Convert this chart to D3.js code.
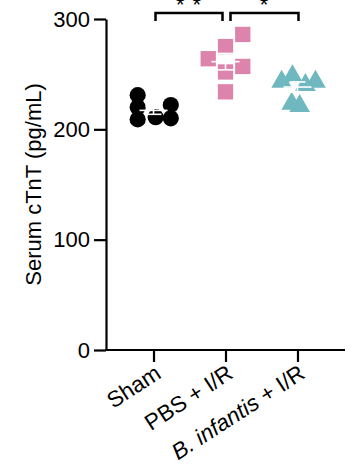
<!DOCTYPE html>
<html lang="en">
<head>
    <meta charset="UTF-8">
    <title>Serum cTnT</title>
    <script src="https://d3js.org/d3.v7.min.js"></script>
    <style>
        body { margin: 0; background: #fff; }
        text { font-family: "Liberation Sans", Arial, sans-serif; fill: #000; }
        .axis path, .axis line { stroke: #000; stroke-width: 2.2; }
        .bracket { fill: none; stroke: #000; stroke-width: 2.5; }
    </style>
</head>
<body>
    <svg width="357" height="466"></svg>
    <script>
        // groups and read-off values
        const groups = ["Sham", "PBS + I/R", "B. infantis + I/R"];
        const sham = [231, 220, 209, 222, 210, 211];
        const pbs = [286, 275, 264, 257, 252, 234];
        const binf = [250, 245, 245, 242, 225, 223];
        // horizontal scatter of the points, as a fraction of the group step
        const shamOff = [-0.22, -0.22, -0.22, 0.24, 0.24, 0.03];
        const pbsOff = [0.24, 0, -0.24, 0.24, 0, 0];
        const binfOff = [-0.07, -0.22, 0.25, 0.11, -0.08, 0.03];
        const yTicks = [0, 100, 200, 300];
        const colors = ["#000000", "#dc84ab", "#6fb8c0"];
        const shapes = [d3.symbolCircle, d3.symbolSquare, d3.symbolTriangle];
        const comparisons = [[0, 1, "* *"], [1, 2, "*"]];

        const series = [sham, pbs, binf];
        const offsets = [shamOff, pbsOff, binfOff];

        const svg = d3.select("svg"),
              margin = {top: 19, right: 12, bottom: 116, left: 106},
              width = +svg.attr("width") - margin.left - margin.right,
              height = +svg.attr("height") - margin.top - margin.bottom,
              g = svg.append("g").attr("transform", `translate(${margin.left},${margin.top})`);

        const x = d3.scalePoint()
                    .domain(groups)
                    .range([0, width])
                    .padding(0.66);

        const y = d3.scaleLinear()
                    .domain([0, 300])
                    .range([height, 0]);

        const sizes = [205, 235, 185];

        // points
        series.forEach((vals, i) => {
            const cx = x(groups[i]);
            const sym = d3.symbol().type(shapes[i]).size(sizes[i]);
            g.append("g").selectAll("path")
             .data(vals)
             .join("path")
             .attr("d", sym)
             .attr("transform", (d, j) => `translate(${cx + offsets[i][j] * x.step()},${y(d) + (i === 2 ? 2 : 0)})`)
             .attr("fill", colors[i]);

            // mean and SEM in white
            const m = d3.mean(vals),
                  sem = d3.deviation(vals) / Math.sqrt(vals.length);
            const lines = [[m, 14], [m + sem, 8], [m - sem, 8]];
            g.append("g").selectAll("line")
             .data(lines)
             .join("line")
             .attr("x1", d => cx - d[1])
             .attr("x2", d => cx + d[1])
             .attr("y1", d => y(d[0]))
             .attr("y2", d => y(d[0]))
             .attr("stroke", "#fff")
             .attr("stroke-width", 1.6);
            g.append("line")
             .attr("x1", cx).attr("x2", cx)
             .attr("y1", y(m + sem)).attr("y2", y(m - sem))
             .attr("stroke", "#fff")
             .attr("stroke-width", 1.6);
        });

        // axes
        g.append("g")
         .attr("class", "axis")
         .call(d3.axisLeft(y).tickValues(yTicks).tickSize(12).tickSizeOuter(0).tickPadding(4))
         .selectAll("text")
         .style("font-size", "22px");

        const xAxis = g.append("g")
         .attr("class", "axis")
         .attr("transform", `translate(0,${height})`)
         .call(d3.axisBottom(x).tickSize(12).tickSizeOuter(0).tickFormat(""));
        xAxis.select(".domain").attr("d", `M-1,0H${width}`);

        // rotated group labels
        g.append("g").selectAll("text")
         .data(groups)
         .join("text")
         .attr("text-anchor", "end")
         .attr("transform", d => `translate(${x(d) + 9},${height + 27}) rotate(-33)`)
         .style("font-size", "22.5px")
         .each(function(d) {
             const t = d3.select(this);
             if (d.startsWith("B. infantis")) {
                 t.append("tspan").attr("font-style", "italic").text("B. infantis");
                 t.append("tspan").text(" + I/R");
             } else {
                 t.text(d);
             }
         });

        // y label
        svg.append("text")
           .attr("transform", `translate(41,${margin.top + height / 2}) rotate(-90)`)
           .attr("text-anchor", "middle")
           .style("font-size", "22px")
           .text("Serum cTnT (pg/mL)");

        // significance brackets
        comparisons.forEach(([a, b, label], k) => {
            const x1 = margin.left + x(groups[a]) + (k === 0 ? 2 : 5),
                  x2 = margin.left + x(groups[b]) - (k === 0 ? 3 : -1),
                  yTop = 13, yLeg = 21;
            svg.append("path")
               .attr("class", "bracket")
               .attr("d", `M${x1},${yLeg}V${yTop}H${x2}V${yLeg}`);
            svg.append("text")
               .attr("x", (x1 + x2) / 2)
               .attr("y", 12)
               .attr("text-anchor", "middle")
               .style("font-size", "22px")
               .style("letter-spacing", "1px")
               .text(label);
        });
    </script>
</body>
</html>
